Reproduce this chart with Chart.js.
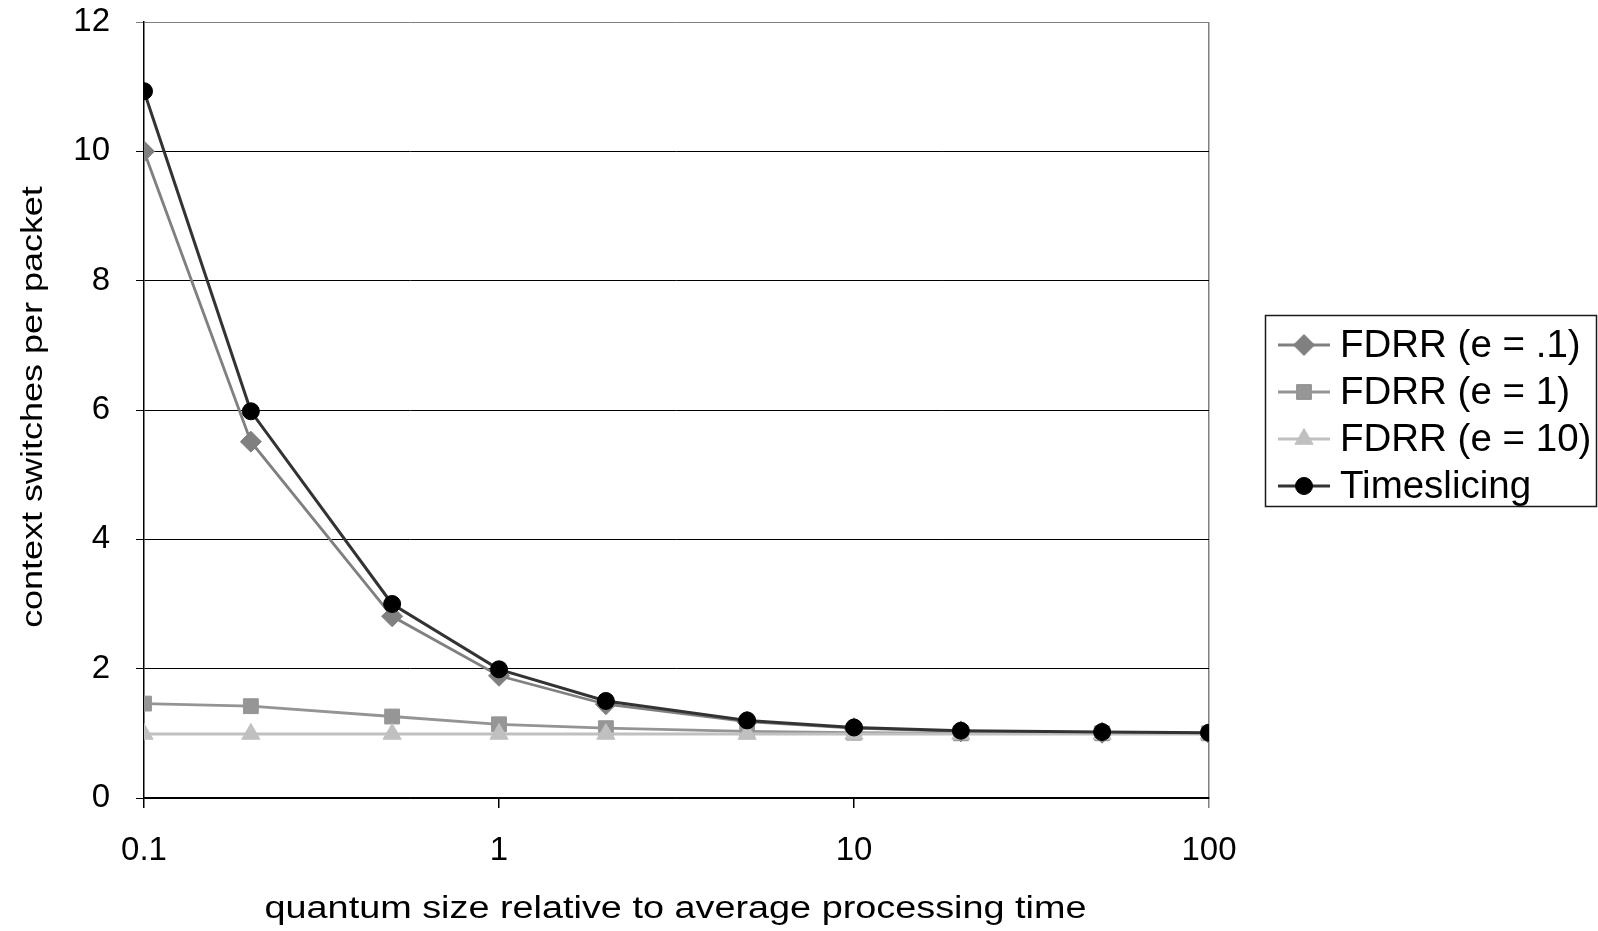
<!DOCTYPE html>
<html>
<head>
<meta charset="utf-8">
<title>context switches per packet</title>
<script src="https://cdn.jsdelivr.net/npm/chart.js@4.4.1/dist/chart.umd.min.js"></script>
<style>
  html, body { margin: 0; padding: 0; background: #fff; }
  #wrap { width: 1598px; height: 931px; position: relative; }
</style>
</head>
<body>
<div id="wrap"><canvas id="chart"></canvas></div>
<script>
// data
const quantumSizes = [0.1, 0.2, 0.5, 1, 2, 5, 10, 20, 50, 100];
const fdrrE01 = [10.0, 5.51, 2.81, 1.89, 1.45, 1.18, 1.08, 1.03, 1.01, 1.0];
const fdrrE1 = [1.46, 1.42, 1.26, 1.14, 1.08, 1.03, 1.01, 1.0, 1.0, 1.0];
const fdrrE10 = [0.99, 0.99, 0.99, 0.99, 0.99, 0.99, 0.99, 0.99, 0.99, 0.99];
const timeslicing = [10.93, 5.98, 3.0, 1.99, 1.5, 1.2, 1.09, 1.04, 1.02, 1.01];
const seriesNames = ['FDRR (e = .1)', 'FDRR (e = 1)', 'FDRR (e = 10)', 'Timeslicing'];
const xTickValues = [0.1, 1, 10, 100];
const xTickLabels = ['0.1', '1', '10', '100'];
const xTitle = 'quantum size relative to average processing time';
const yTitle = 'context switches per packet';

const FONT = '"Liberation Sans", Arial, sans-serif';

const toPoints = ys => quantumSizes.map((x, i) => ({ x: x, y: ys[i] }));

// axis titles: the original text is stretched wide, so draw it with a horizontal scale
const axisTitles = {
  id: 'axisTitles',
  afterDraw(chart) {
    const { ctx, chartArea } = chart;
    ctx.save();
    ctx.fillStyle = '#000';
    ctx.textAlign = 'center';
    ctx.textBaseline = 'alphabetic';

    ctx.font = '31px ' + FONT;
    ctx.save();
    ctx.translate((chartArea.left + chartArea.right) / 2 - 1, 918);
    ctx.scale(1.22, 1);
    ctx.fillText(xTitle, 0, 0);
    ctx.restore();

    ctx.font = '29px ' + FONT;
    ctx.save();
    ctx.translate(41.5, (chartArea.top + chartArea.bottom) / 2 - 3);
    ctx.rotate(-Math.PI / 2);
    ctx.scale(1.24, 1);
    ctx.fillText(yTitle, 0, 0);
    ctx.restore();

    ctx.restore();
  }
};

// Excel-style legend: framed box, line sample with marker
const legendBox = {
  id: 'legendBox',
  afterDraw(chart) {
    const ctx = chart.ctx;
    const left = chart.chartArea.right + 56;
    const top = 315;
    ctx.save();
    ctx.strokeStyle = '#1a1a1a';
    ctx.lineWidth = 1.5;
    ctx.strokeRect(left + 0.5, top + 0.5, 331, 191);
    ctx.font = '38.5px ' + FONT;
    ctx.textBaseline = 'middle';
    ctx.textAlign = 'left';
    chart.data.datasets.forEach((ds, i) => {
      const y = top + 30 + i * 47;
      ctx.strokeStyle = ds.borderColor;
      ctx.lineWidth = ds.borderWidth;
      ctx.beginPath();
      ctx.moveTo(left + 13, y);
      ctx.lineTo(left + 65, y);
      ctx.stroke();
      ctx.fillStyle = ds.pointBackgroundColor;
      ctx.strokeStyle = ds.pointBorderColor;
      ctx.lineWidth = ds.pointBorderWidth;
      Chart.helpers.drawPoint(ctx, {
        pointStyle: ds.pointStyle,
        radius: ds.pointRadius,
        rotation: 0,
        borderWidth: ds.pointBorderWidth
      }, left + 39, y);
      ctx.fillStyle = '#000';
      ctx.fillText(ds.label, left + 75, y + 1);
    });
    ctx.restore();
  }
};

const chartData = {
  datasets: [
    {
      label: seriesNames[0],
      data: toPoints(fdrrE01),
      borderColor: '#808080',
      borderWidth: 2.8,
      pointStyle: 'rectRot',
      pointRadius: 10.5,
      pointBackgroundColor: '#808080',
      pointBorderColor: '#808080',
      pointBorderWidth: 1,
      order: 4
    },
    {
      label: seriesNames[1],
      data: toPoints(fdrrE1),
      borderColor: '#949494',
      borderWidth: 2.8,
      pointStyle: 'rect',
      pointRadius: 10.5,
      pointBackgroundColor: '#969696',
      pointBorderColor: '#969696',
      pointBorderWidth: 1,
      order: 3
    },
    {
      label: seriesNames[2],
      data: toPoints(fdrrE10),
      borderColor: '#c0c0c0',
      borderWidth: 2.8,
      pointStyle: 'triangle',
      pointRadius: 10.5,
      pointBackgroundColor: '#c0c0c0',
      pointBorderColor: '#c0c0c0',
      pointBorderWidth: 1,
      order: 2
    },
    {
      label: seriesNames[3],
      data: toPoints(timeslicing),
      borderColor: '#333333',
      borderWidth: 3,
      pointStyle: 'circle',
      pointRadius: 8.5,
      pointBackgroundColor: '#000000',
      pointBorderColor: '#000000',
      pointBorderWidth: 1,
      order: 1
    }
  ]
};

const chartConfig = {
  type: 'line',
  data: chartData,
  plugins: [axisTitles, legendBox],
  options: {
    responsive: true,
    maintainAspectRatio: false,
    devicePixelRatio: 1,
    animation: false,
    layout: { padding: { left: 0, top: 22, right: 389, bottom: 0 } },
    plugins: {
      legend: { display: false },
      tooltip: { enabled: false }
    },
    elements: { line: { tension: 0 } },
    scales: {
      x: {
        type: 'logarithmic',
        min: 0.1,
        max: 100,
        afterBuildTicks: scale => {
          scale.ticks = xTickValues.map(v => ({ value: v }));
        },
        afterFit: scale => { scale.height = 133; },
        ticks: {
          autoSkip: false,
          maxRotation: 0,
          padding: 23,
          color: '#000',
          font: { family: FONT, size: 33 },
          callback: (value) => {
            const i = xTickValues.indexOf(value);
            return i >= 0 ? xTickLabels[i] : '';
          }
        },
        grid: {
          drawOnChartArea: true,
          tickLength: 10,
          lineWidth: 1.5,
          // only the right edge of the plot frame is drawn, in grey
          color: ctx => (ctx.tick && ctx.tick.value === 100) ? '#808080' : 'rgba(0,0,0,0)',
          tickColor: ctx => (ctx.tick && ctx.tick.value === 100) ? '#808080' : '#000'
        },
        border: { display: true, color: '#000', width: 1.5 },
        title: { display: false }
      },
      y: {
        type: 'linear',
        min: 0,
        max: 12,
        afterFit: scale => {
          scale.width = 144;
          // keep the tick padding from pushing the plot top down
          scale.paddingTop = 0;
          scale.paddingBottom = 0;
        },
        ticks: {
          stepSize: 2,
          padding: 26,
          color: '#000',
          font: { family: FONT, size: 33 }
        },
        grid: {
          lineWidth: 1,
          tickLength: 8,
          color: ctx => (ctx.tick && ctx.tick.value === 12) ? '#808080' : '#000',
          tickColor: ctx => (ctx.tick && ctx.tick.value === 12) ? '#808080' : '#000'
        },
        border: { display: true, color: '#000', width: 1.5 },
        title: { display: false }
      }
    }
  }
};

new Chart(document.getElementById('chart'), chartConfig);
</script>
</body>
</html>
